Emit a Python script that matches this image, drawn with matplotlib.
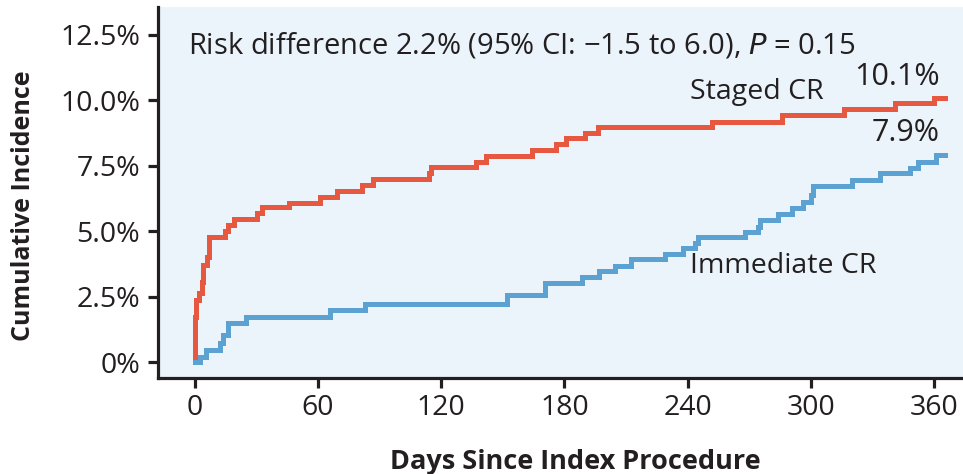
import matplotlib
matplotlib.use("Agg")
import matplotlib.pyplot as plt
from matplotlib.ticker import FuncFormatter

plt.rcParams['font.family'] = ['Open Sans', 'DejaVu Sans']

# Cumulative incidence (%) step curves: event day, value after the step
staged_days = [0, 0, 0.7, 2.3, 3.5, 4.3, 5.9, 6.9, 7.2, 14.8, 16.4, 19.2, 30.3, 32.7,
               46.0, 61.0, 69.2, 81.3, 87.0, 114, 115, 137, 142, 164, 176, 181,
               190, 196.4, 252, 286, 316, 341, 360, 365]
staged_pct = [0, 1.74, 2.38, 2.63, 3.08, 3.71, 4.03, 4.22, 4.79, 5.02, 5.24, 5.46, 5.69,
              5.92, 6.09, 6.32, 6.55, 6.77, 6.98, 7.22, 7.44, 7.66, 7.87, 8.10, 8.32,
              8.57, 8.77, 8.99, 9.18, 9.44, 9.67, 9.89, 10.1, 10.1]

immediate_days = [0, 2.5, 5.5, 12.4, 14.0, 16.4, 25, 66, 83, 152, 170.6, 188.5, 197,
                  204.5, 212.6, 229, 237.7, 243.4, 245, 267.7, 274, 275, 284, 291,
                  296, 300, 301, 320, 333.4, 348, 352, 361, 365]
immediate_pct = [0, 0.22, 0.47, 0.72, 1.04, 1.49, 1.72, 2.0, 2.22, 2.57, 3.04, 3.27,
                 3.50, 3.69, 3.94, 4.13, 4.35, 4.56, 4.79, 4.98, 5.18, 5.43, 5.65,
                 5.88, 6.13, 6.39, 6.73, 6.94, 7.21, 7.40, 7.66, 7.9, 7.9]

x_ticks = [0, 60, 120, 180, 240, 300, 360]
y_ticks = [0, 2.5, 5.0, 7.5, 10.0, 12.5]

staged_final = 10.1
immediate_final = 7.9

RED = '#E6583F'
BLUE = '#5BA2D3'
TEXT = '#231F20'
BG = '#EBF3FB'

fig = plt.figure(figsize=(9.63, 4.74), dpi=100)
ax = fig.add_axes([0.1641, 0.2019, 0.8359, 0.7833])
ax.set_facecolor(BG)

ax.step(staged_days, staged_pct, where='post', color=RED, lw=3.6, solid_joinstyle='miter')
ax.step(immediate_days, immediate_pct, where='post', color=BLUE, lw=3.6, solid_joinstyle='miter')

ax.set_xlim(-17.8, 374)
ax.set_ylim(-0.61, 13.56)
ax.set_xticks(x_ticks)
ax.set_yticks(y_ticks)

def pct_fmt(v, _):
    return '0%' if v == 0 else f'{v:.1f}%'

ax.yaxis.set_major_formatter(FuncFormatter(pct_fmt))

for side in ('top', 'right'):
    ax.spines[side].set_visible(False)
for side in ('left', 'bottom'):
    ax.spines[side].set_linewidth(2.3)
    ax.spines[side].set_color(TEXT)

ax.tick_params(axis='both', direction='out', length=7, width=2.3, color=TEXT,
               labelsize=20.5, labelcolor=TEXT)
ax.tick_params(axis='y', pad=6)
ax.tick_params(axis='x', pad=4)

ax.set_xlabel('Days Since Index Procedure', fontsize=19.5, fontweight='bold', color=TEXT)
ax.xaxis.set_label_coords(0.518, -0.226)
ax.xaxis.label.set_verticalalignment('center')
ax.set_ylabel('Cumulative Incidence', fontsize=18, fontweight='bold', color=TEXT)
ax.yaxis.set_label_coords(-0.167, 0.464)
ax.yaxis.label.set_verticalalignment('center')

ax.text(-3.2, 12.1, 'Risk difference 2.2% (95% CI: \u22121.5 to 6.0), $\\it{P}$ = 0.15',
        fontsize=21, color=TEXT, va='center', ha='left')
ax.text(241, 10.3, 'Staged CR', fontsize=20.5, color=TEXT, va='center', ha='left')
ax.text(362.6, 10.9, f'{staged_final}%', fontsize=22, color=TEXT, va='center', ha='right')
ax.text(362.6, 8.75, f'{immediate_final}%', fontsize=22, color=TEXT, va='center', ha='right')
ax.text(241, 3.67, 'Immediate CR', fontsize=20.5, color=TEXT, va='center', ha='left')

fig.savefig('out.png', dpi=100, facecolor='white')
